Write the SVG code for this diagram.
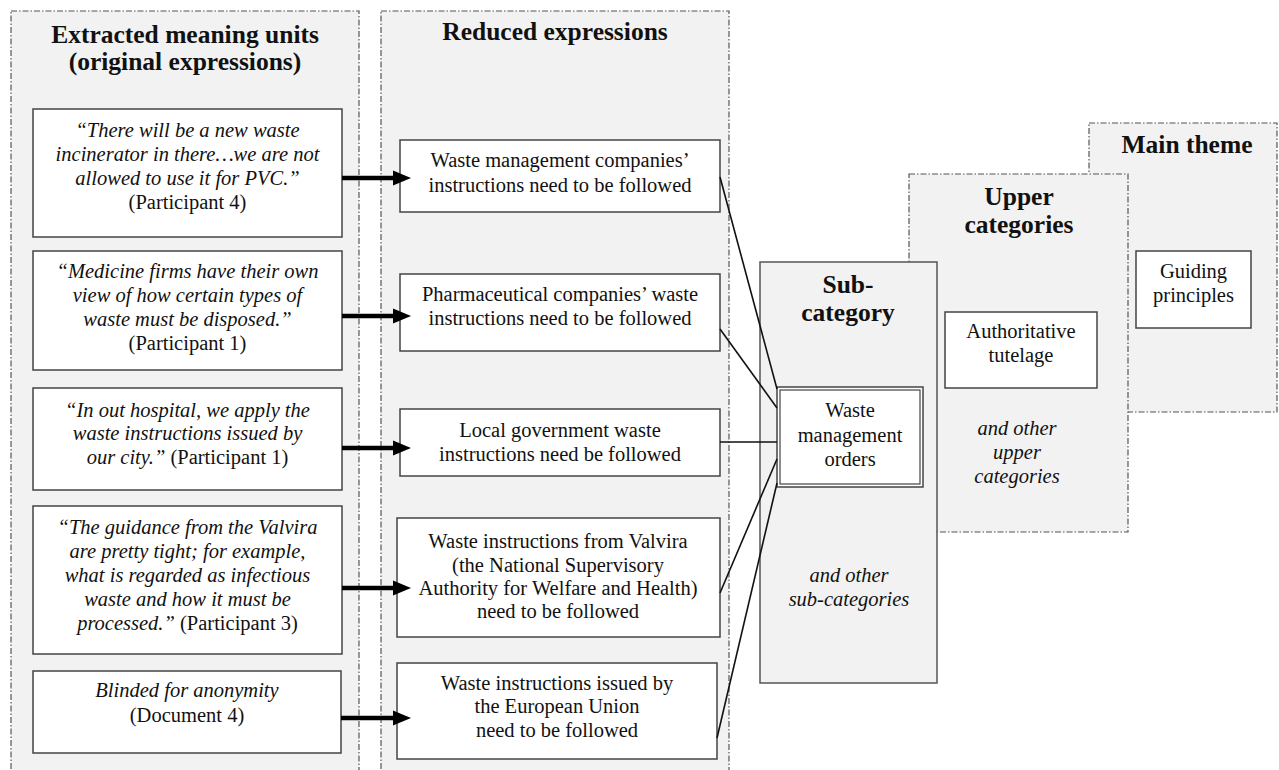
<svg xmlns="http://www.w3.org/2000/svg" width="1279" height="770" viewBox="0 0 1279 770">
<defs>
<style>
.panel{fill:#f2f2f2;stroke:#555;stroke-width:1.2;stroke-dasharray:6 2 1.5 2}
.sub{fill:#f2f2f2;stroke:#555;stroke-width:1.5}
.box{fill:#fff;stroke:#444;stroke-width:1.5}
.t{font-family:"Liberation Serif","Times New Roman",serif;font-size:20.5px;fill:#111;text-anchor:middle}
.i{font-style:italic}
.h{font-family:"Liberation Serif","Times New Roman",serif;font-size:25.5px;font-weight:bold;fill:#111;text-anchor:middle}
.arr{stroke:#000;stroke-width:4.5;fill:none}
.head{fill:#000}
.ln{stroke:#111;stroke-width:1.6;fill:none}
</style>
</defs>
<rect width="1279" height="770" fill="#fff"/>

<g id="panel-main-theme">
<rect class="panel" x="1089" y="123" width="188" height="289"/>
<text class="h" x="1187" y="153">Main theme</text>
</g>
<g id="panel-upper">
<rect class="panel" x="909" y="174" width="219" height="358"/>
<text class="h" x="1019" y="205">Upper</text>
<text class="h" x="1019" y="233">categories</text>
<text class="t i" x="1017" y="435">and other</text>
<text class="t i" x="1017" y="459">upper</text>
<text class="t i" x="1017" y="483">categories</text>
</g>
<g id="panel-sub">
<rect class="sub" x="760" y="262" width="177" height="421"/>
<text class="h" x="848" y="293">Sub-</text>
<text class="h" x="848" y="321">category</text>
<text class="t i" x="849" y="582">and other</text>
<text class="t i" x="849" y="606">sub-categories</text>
</g>
<g id="panel-extracted">
<rect class="panel" x="11" y="11" width="348" height="790"/>
<text class="h" x="185" y="43">Extracted meaning units</text>
<text class="h" x="185" y="70">(original expressions)</text>
</g>
<g id="panel-reduced">
<rect class="panel" x="381" y="11" width="348" height="790"/>
<text class="h" x="555" y="40">Reduced expressions</text>
</g>

<g id="e1">
<rect class="box" x="33" y="109" width="309" height="128"/>
<text class="t i" x="187.5" y="137">“There will be a new waste</text>
<text class="t i" x="187.5" y="161">incinerator in there…we are not</text>
<text class="t i" x="187.5" y="185">allowed to use it for PVC.”</text>
<text class="t" x="187.5" y="209">(Participant 4)</text>
</g>
<g id="e2">
<rect class="box" x="33" y="251" width="309" height="119"/>
<text class="t i" x="187.5" y="278">“Medicine firms have their own</text>
<text class="t i" x="187.5" y="302">view of how certain types of</text>
<text class="t i" x="187.5" y="326">waste must be disposed.”</text>
<text class="t" x="187.5" y="350">(Participant 1)</text>
</g>
<g id="e3">
<rect class="box" x="33" y="388" width="309" height="102"/>
<text class="t i" x="187.5" y="417">“In out hospital, we apply the</text>
<text class="t i" x="187.5" y="440">waste instructions issued by</text>
<text class="t" x="187.5" y="464"><tspan font-style="italic">our city.”</tspan> (Participant 1)</text>
</g>
<g id="e4">
<rect class="box" x="33" y="506" width="309" height="148"/>
<text class="t i" x="187.5" y="534">“The guidance from the Valvira</text>
<text class="t i" x="187.5" y="558">are pretty tight; for example,</text>
<text class="t i" x="187.5" y="582">what is regarded as infectious</text>
<text class="t i" x="187.5" y="606">waste and how it must be</text>
<text class="t" x="187.5" y="630"><tspan font-style="italic">processed.”</tspan> (Participant 3)</text>
</g>
<g id="e5">
<rect class="box" x="33" y="671" width="308" height="82"/>
<text class="t i" x="187" y="697">Blinded for anonymity</text>
<text class="t" x="187" y="722">(Document 4)</text>
</g>

<g id="r1">
<rect class="box" x="400" y="140" width="320" height="72"/>
<text class="t" x="560" y="167">Waste management companies’</text>
<text class="t" x="560" y="192">instructions need to be followed</text>
</g>
<g id="r2">
<rect class="box" x="400" y="274" width="320" height="77"/>
<text class="t" x="560" y="301">Pharmaceutical companies’ waste</text>
<text class="t" x="560" y="325">instructions need to be followed</text>
</g>
<g id="r3">
<rect class="box" x="400" y="409" width="320" height="67"/>
<text class="t" x="560" y="437">Local government waste</text>
<text class="t" x="560" y="461">instructions need be followed</text>
</g>
<g id="r4">
<rect class="box" x="397" y="518" width="323" height="119"/>
<text class="t" x="558" y="548">Waste instructions from Valvira</text>
<text class="t" x="558" y="572">(the National Supervisory</text>
<text class="t" x="558" y="595">Authority for Welfare and Health)</text>
<text class="t" x="558" y="618">need to be followed</text>
</g>
<g id="r5">
<rect class="box" x="397" y="663" width="320" height="96"/>
<text class="t" x="557" y="690">Waste instructions issued by</text>
<text class="t" x="557" y="713">the European Union</text>
<text class="t" x="557" y="737">need to be followed</text>
</g>

<g id="waste-management-orders">
<rect class="box" x="777" y="387" width="146" height="100"/>
<rect x="780" y="390" width="140" height="94" fill="none" stroke="#444" stroke-width="1.2"/>
<text class="t" x="850" y="417">Waste</text>
<text class="t" x="850" y="442">management</text>
<text class="t" x="850" y="466">orders</text>
</g>
<g id="authoritative-tutelage">
<rect class="box" x="945" y="312" width="152" height="76"/>
<text class="t" x="1021" y="338">Authoritative</text>
<text class="t" x="1021" y="362">tutelage</text>
</g>
<g id="guiding-principles">
<rect class="box" x="1136" y="251" width="115" height="77"/>
<text class="t" x="1193.5" y="278">Guiding</text>
<text class="t" x="1193.5" y="302">principles</text>
</g>

<g id="connectors">
<line class="arr" x1="342" y1="178" x2="395" y2="178"/>
<polygon class="head" points="393,170.5 411,178 393,185.5"/>
<line class="arr" x1="342" y1="316" x2="395" y2="316"/>
<polygon class="head" points="393,308.5 411,316 393,323.5"/>
<line class="arr" x1="342" y1="448" x2="395" y2="448"/>
<polygon class="head" points="393,440.5 411,448 393,455.5"/>
<line class="arr" x1="342" y1="588" x2="395" y2="588"/>
<polygon class="head" points="393,580.5 411,588 393,595.5"/>
<line class="arr" x1="341" y1="718" x2="395" y2="718"/>
<polygon class="head" points="393,710.5 411,718 393,725.5"/>
<line class="ln" x1="720" y1="177" x2="777" y2="389"/>
<line class="ln" x1="720" y1="329" x2="777" y2="408"/>
<line class="ln" x1="720" y1="442" x2="777" y2="442"/>
<line class="ln" x1="720" y1="593" x2="777" y2="459"/>
<line class="ln" x1="717" y1="738" x2="777" y2="483"/>
</g>
</svg>
